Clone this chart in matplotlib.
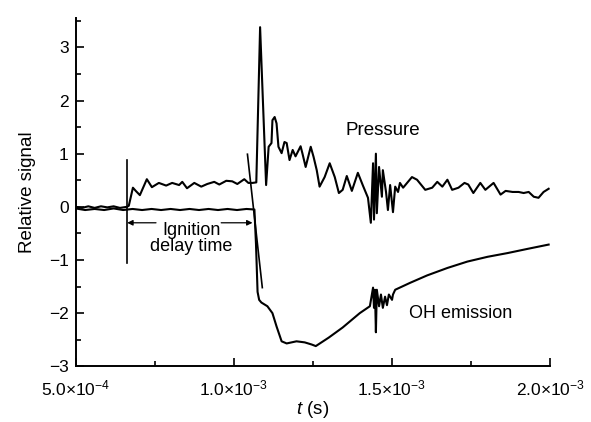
import numpy as np
import matplotlib
matplotlib.use("Agg")
import matplotlib.pyplot as plt
from matplotlib.ticker import MultipleLocator

plt.rcParams['font.family'] = ['Liberation Sans', 'DejaVu Sans']
plt.rcParams['mathtext.fontset'] = 'custom'
plt.rcParams['mathtext.rm'] = 'Liberation Sans'
plt.rcParams['mathtext.it'] = 'Liberation Sans:italic'

# Pressure trace (time in ms, relative signal)
t_pressure_ms = [0.500, 0.520, 0.540, 0.560, 0.580, 0.600, 0.620, 0.640, 0.662,
                 0.668, 0.681, 0.690, 0.703, 0.725, 0.741, 0.763, 0.786, 0.805, 0.827,
                 0.837, 0.852, 0.875, 0.897, 0.916, 0.938, 0.954, 0.976, 0.995, 1.011,
                 1.033, 1.046, 1.059, 1.071, 1.083, 1.102, 1.110, 1.119, 1.122, 1.129,
                 1.135, 1.141, 1.151, 1.160, 1.167, 1.176, 1.186, 1.195, 1.211, 1.217,
                 1.227, 1.243, 1.252, 1.262, 1.271, 1.287, 1.303, 1.319, 1.332, 1.344,
                 1.357, 1.373, 1.392, 1.408, 1.424, 1.433, 1.440, 1.443, 1.449, 1.452,
                 1.459, 1.468, 1.471, 1.481, 1.487, 1.494, 1.503, 1.510, 1.519, 1.525,
                 1.535, 1.563, 1.579, 1.605, 1.627, 1.643, 1.659, 1.675, 1.690, 1.710,
                 1.729, 1.741, 1.757, 1.779, 1.795, 1.821, 1.843, 1.859, 1.881, 1.900,
                 1.916, 1.932, 1.948, 1.963, 1.979, 1.995]
pressure = [0.00, -0.02, 0.01, -0.02, 0.01, -0.01, 0.01, -0.02, 0.00,
            0.02, 0.36, 0.30, 0.22, 0.52, 0.37, 0.45, 0.40, 0.45, 0.41,
            0.47, 0.35, 0.45, 0.38, 0.43, 0.47, 0.42, 0.49, 0.48, 0.43,
            0.52, 0.45, 0.45, 0.46, 3.38, 0.41, 1.13, 1.20, 1.63, 1.69,
            1.57, 1.13, 1.01, 1.22, 1.20, 0.88, 1.07, 0.95, 1.14, 1.00,
            0.75, 1.13, 0.94, 0.69, 0.38, 0.56, 0.82, 0.56, 0.26, 0.32,
            0.58, 0.30, 0.64, 0.40, 0.17, -0.30, 0.82, -0.24, 1.00, -0.12,
            0.75, 0.19, 0.69, 0.28, -0.06, 0.41, -0.10, 0.38, 0.28, 0.45,
            0.36, 0.56, 0.51, 0.32, 0.36, 0.47, 0.38, 0.51, 0.32, 0.36,
            0.45, 0.42, 0.26, 0.45, 0.32, 0.45, 0.23, 0.30, 0.28, 0.28,
            0.26, 0.28, 0.19, 0.17, 0.28, 0.34]

# OH emission trace
t_oh_ms = [0.500, 0.530, 0.560, 0.590, 0.620, 0.650, 0.680, 0.710, 0.740, 0.770,
           0.800, 0.830, 0.860, 0.890, 0.920, 0.950, 0.980, 1.010, 1.040, 1.065,
           1.070, 1.075, 1.080, 1.087, 1.106, 1.122, 1.135, 1.151, 1.167, 1.198,
           1.224, 1.246, 1.259, 1.300, 1.344, 1.398, 1.430, 1.440, 1.443, 1.446,
           1.449, 1.452, 1.459, 1.465, 1.471, 1.478, 1.484, 1.490, 1.500, 1.503,
           1.510, 1.557, 1.611, 1.675, 1.738, 1.802, 1.865, 1.929, 1.995]
oh = [-0.03, -0.06, -0.04, -0.06, -0.03, -0.06, -0.04, -0.06, -0.04, -0.06,
      -0.04, -0.06, -0.04, -0.06, -0.04, -0.06, -0.04, -0.06, -0.04, -0.05,
      -0.70, -1.60, -1.75, -1.80, -1.87, -2.00, -2.25, -2.53, -2.57, -2.53,
      -2.55, -2.59, -2.62, -2.46, -2.27, -2.00, -1.87, -1.52, -1.90, -1.56,
      -2.36, -1.56, -1.87, -1.65, -1.90, -1.69, -1.85, -1.65, -1.75, -1.65,
      -1.56, -1.43, -1.29, -1.15, -1.03, -0.94, -0.87, -0.79, -0.71]

# construction lines for the ignition delay
onset_ms = 0.663
onset_y = [-1.05, 0.88]
tangent_ms = [1.043, 1.090]
tangent_y = [0.99, -1.52]
ignition_end_ms = 1.059

x_ticks_ms = [0.5, 1.0, 1.5, 2.0]
x_tick_labels = [r'5.0×10$^{-4}$', r'1.0×10$^{-3}$', r'1.5×10$^{-3}$', r'2.0×10$^{-3}$']

fig = plt.figure(figsize=(5.91, 4.22), dpi=100)
ax = fig.add_axes([0.128, 0.132, 0.803, 0.825])

lw = 1.5
ax.plot(np.array(t_pressure_ms) * 1e-3, pressure, color='black', lw=lw)
ax.plot(np.array(t_oh_ms) * 1e-3, oh, color='black', lw=lw)
ax.plot([onset_ms * 1e-3, onset_ms * 1e-3], onset_y, color='black', lw=1.2)
ax.plot(np.array(tangent_ms) * 1e-3, tangent_y, color='black', lw=1.2)

# double arrow broken by the label
arrow_y = -0.30
arr = dict(arrowstyle='-|>', color='black', lw=0.9, mutation_scale=8,
           shrinkA=0, shrinkB=0)
ax.annotate('', xy=(onset_ms * 1e-3, arrow_y), xytext=(0.754e-3, arrow_y), arrowprops=arr)
ax.annotate('', xy=(ignition_end_ms * 1e-3, arrow_y), xytext=(0.960e-3, arrow_y), arrowprops=arr)
ax.text(0.865e-3, -0.60, 'Ignition\ndelay time', ha='center', va='center',
        fontsize=13, linespacing=0.95)

ax.text(1.471e-3, 1.44, 'Pressure', ha='center', va='center', fontsize=13.5)
ax.text(1.716e-3, -2.0, 'OH emission', ha='center', va='center', fontsize=13)

ax.set_xlim(0.5e-3, 2.0e-3)
ax.set_ylim(-3, 3.55)
ax.set_xticks(np.array(x_ticks_ms) * 1e-3)
ax.set_xticklabels(x_tick_labels)
ax.xaxis.set_minor_locator(MultipleLocator(0.25e-3))
ax.set_yticks([-3, -2, -1, 0, 1, 2, 3])
ax.set_yticklabels(['\u22123', '\u22122', '\u22121', '0', '1', '2', '3'])
ax.yaxis.set_minor_locator(MultipleLocator(0.5))
ax.tick_params(which='both', direction='in', labelsize=12.5, width=1.2)
ax.tick_params(which='major', length=6)
ax.tick_params(which='minor', length=3.5)
ax.tick_params(axis='x', which='major', pad=9)
ax.tick_params(axis='y', which='major', pad=5)
ax.spines['top'].set_visible(False)
ax.spines['right'].set_visible(False)
for s in ('left', 'bottom'):
    ax.spines[s].set_linewidth(1.4)

ax.set_xlabel(r'$t$ (s)', fontsize=13.5, labelpad=0)
ax.set_ylabel('Relative signal', fontsize=13.5, labelpad=9)

fig.savefig('out.png', dpi=100)
